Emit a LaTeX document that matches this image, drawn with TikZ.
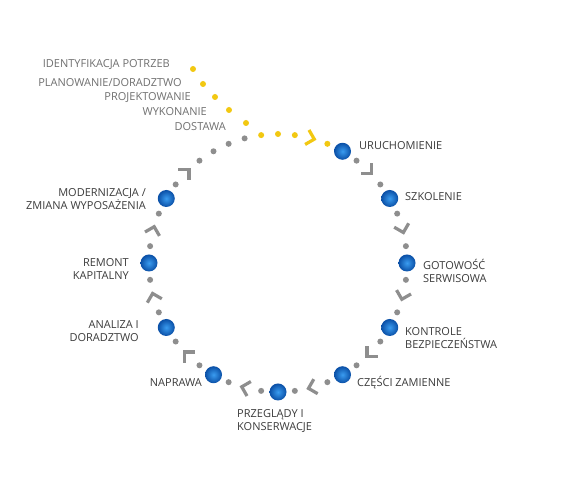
\documentclass[tikz,border=0pt]{standalone}
\usepackage{fontspec}
\setmainfont{Open Sans}
\definecolor{ringgray}{HTML}{8E8E8E}
\definecolor{ringyellow}{HTML}{F2C811}
\definecolor{balldark}{HTML}{0A4FA6}
\definecolor{balllight}{HTML}{3A9CF0}
\definecolor{labelgray}{HTML}{3C3C3C}
\definecolor{stepgray}{HTML}{707070}
\tikzset{
  ballnode/.style={circle, minimum size=17pt, inner sep=0pt, inner color=balllight, outer color=balldark},
  chev/.style={draw=ringgray, line width=3.2pt, line cap=butt, line join=miter},
  lbl/.style={text=labelgray, font=\fontsize{11}{13}\selectfont, inner sep=0pt},
  steplbl/.style={text=stepgray, font=\fontsize{11}{13}\selectfont, inner sep=0pt, anchor=east},
}
\begin{document}
\begin{tikzpicture}[x=1pt,y=1pt]
  \useasboundingbox (0,0) rectangle (576,502);
  \fill[white] (0,0) rectangle (576,502);
  % ring
  \begin{scope}[shift={(278,239)}]
    \foreach \a in {45,15,...,-225} {
      \fill[ringgray] (\a+7.5:129) circle (3);
      \fill[ringgray] (\a-7.5:129) circle (3);
      \draw[chev, shift={(\a:129)}, rotate=\a-90] (-4.5,7.5) -- (3,0) -- (-4.5,-7.5);
    }
    \foreach \a in {120,112.5,105} \fill[ringgray] (\a:129) circle (3);
    \foreach \a in {97.5,90,82.5,67.5} \fill[ringyellow] (\a:129) circle (3);
    \draw[chev, draw=ringyellow, shift={(75:129)}, rotate=-15] (-4.5,7.5) -- (3,0) -- (-4.5,-7.5);
    \node[ballnode] (uru) at (60:129) {};
    \node[ballnode] (szk) at (30:129) {};
    \node[ballnode] (got) at (0:129) {};
    \node[ballnode] (kon) at (-30:129) {};
    \node[ballnode] (cze) at (-60:129) {};
    \node[ballnode] (prz) at (-90:129) {};
    \node[ballnode] (nap) at (-120:129) {};
    \node[ballnode] (ana) at (-150:129) {};
    \node[ballnode] (rem) at (180:129) {};
    \node[ballnode] (mod) at (150:129) {};
  \end{scope}
  % steps before start-up
  \foreach \p in {(193,433),(203,418),(215,405),(229,392),(246,379)}
    \fill[ringyellow] \p circle (3);
  \node[steplbl] (idL) at (170,437) {IDENTYFIKACJA POTRZEB};
  \node[steplbl] (plL) at (182,419) {PLANOWANIE/DORADZTWO};
  \node[steplbl] (prL) at (191,404) {PROJEKTOWANIE};
  \node[steplbl] (wyL) at (207,390) {WYKONANIE};
  \node[steplbl] (doL) at (226,375) {DOSTAWA};
  % ring labels
  \node[lbl, anchor=west] (uruL) at (359,356) {URUCHOMIENIE};
  \node[lbl, anchor=west] (szkL) at (405,305) {SZKOLENIE};
  \node[lbl, anchor=west, align=left] (gotL) at (423,231.5) {GOTOWOŚĆ\\SERWISOWA};
  \node[lbl, anchor=west, align=left] (konL) at (405,163.5) {KONTROLE\\BEZPIECZEŃSTWA};
  \node[lbl, anchor=west] (czeL) at (357,119) {CZĘŚCI ZAMIENNE};
  \node[lbl, anchor=west, align=left] (przL) at (237,80.5) {PRZEGLĄDY I\\KONSERWACJE};
  \node[lbl, anchor=east] (napL) at (202,119) {NAPRAWA};
  \node[lbl, anchor=east, align=right] (anaL) at (139,171) {ANALIZA I\\DORADZTWO};
  \node[lbl, anchor=east, align=right] (remL) at (129,232.5) {REMONT\\KAPITALNY};
  \node[lbl, anchor=east, align=right] (modL) at (146,303) {MODERNIZACJA /\\ZMIANA WYPOSAŻENIA};
\end{tikzpicture}
\end{document}
